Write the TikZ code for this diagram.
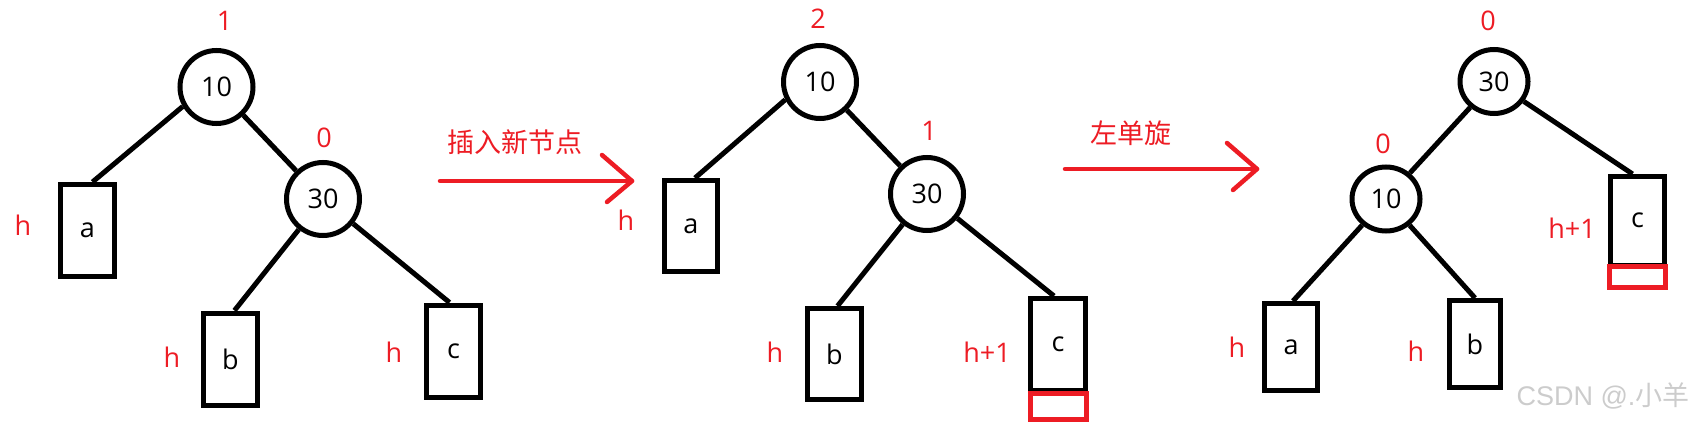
\documentclass[tikz,border=0pt]{standalone}
\usepackage{fontspec}
\setmainfont{Open Sans}
\newfontfamily\cjk{Noto Sans CJK SC}
\newfontfamily\wmfont{Liberation Sans}
\usetikzlibrary{calc,shapes.geometric}
\definecolor{pred}{RGB}{237,28,36}
\begin{document}
\begin{tikzpicture}[x=1pt,y=-1pt,
  txt/.style={font=\fontsize{27}{30}\selectfont},
  circ/.style={circle,draw,line width=5pt,minimum size=73pt,inner sep=0pt,txt},
  ell/.style={ellipse,draw,line width=5pt,minimum width=68pt,minimum height=64pt,inner sep=0pt,txt},
  leaf/.style={rectangle,draw,line width=5pt,inner sep=0pt,minimum width=54pt,minimum height=92pt,txt},
  newpart/.style={rectangle,draw=pred,line width=5pt,inner sep=0pt,minimum width=56pt,minimum height=26pt},
  lbl/.style={text=pred,inner sep=0pt,txt},
  edge/.style={line width=5pt},
  redline/.style={draw=pred,line width=4.5pt,line cap=round,line join=round},
  cjklbl/.style={text=pred,inner sep=0pt,font=\cjk\fontsize{27}{30}\selectfont}]
\path[use as bounding box] (0,0) rectangle (1706,428);

% ---------- tree 1 ----------
\node[circ] (A10) at (216.5,87) {10};
\node[circ] (A30) at (323,199) {30};
\node[leaf] (Aa) at (87.5,230.5) {a};
\node[leaf] (Ab) at (230.5,359) {b};
\node[leaf] (Ac) at (453.5,351) {c};
\node[lbl] (Al1) at (224.5,21) {1};
\node[lbl] (Al0) at (324,138) {0};
\node[lbl] (Aha) at (23,225) {h};
\node[lbl] (Ahb) at (172,357) {h};
\node[lbl] (Ahc) at (394,352) {h};
\draw[edge] (A10.210) -- ([xshift=5pt]Aa.north);
\draw[edge] (A10) -- (A30);
\draw[edge] (A30) -- ([xshift=4pt]Ab.north);
\draw[edge] (A30) -- ([xshift=-4pt]Ac.north);

% ---------- arrow 1 ----------
\coordinate (P1s) at (440,181);
\coordinate (P1t) at (632,181);
\draw[redline] (P1s) -- (P1t);
\draw[redline] ([shift={(-30,-26)}]P1t) -- (P1t) -- ([shift={(-25,21)}]P1t);
\node[cjklbl] (T1) at (515,142) {插入新节点};

% ---------- tree 2 ----------
\node[circ] (B10) at (820,82) {10};
\node[circ] (B30) at (927,194) {30};
\node[leaf,minimum width=53pt,minimum height=91pt] (Ba) at (691,226) {a};
\node[leaf,minimum height=91pt] (Bb) at (834.5,354) {b};
\node[leaf,minimum width=55pt,minimum height=92pt] (Bc) at (1058,344.5) {c};
\node[newpart] (Bn) at (1058.5,406.5) {};
\node[lbl] (Bl2) at (818,19) {2};
\node[lbl] (Bl1) at (929,131) {1};
\node[lbl] (Bha) at (626,220) {h};
\node[lbl] (Bhb) at (775,352) {h};
\node[lbl] (Bhc) at (987,352) {h+1};
\draw[edge] (B10.207) -- ([xshift=4pt]Ba.north);
\draw[edge] (B10) -- (B30);
\draw[edge] (B30) -- ([xshift=3pt]Bb.north);
\draw[edge] (B30) -- ([xshift=-4pt]Bc.north);

% ---------- arrow 2 ----------
\coordinate (P2s) at (1065,169);
\coordinate (P2t) at (1257,169);
\draw[redline] (P2s) -- (P2t);
\draw[redline] ([shift={(-30,-26)}]P2t) -- (P2t) -- ([shift={(-24,21)}]P2t);
\node[cjklbl] (T2) at (1131,133.5) {左单旋};

% ---------- tree 3 ----------
\node[ell] (C30) at (1494,81.5) {30};
\node[ell] (C10) at (1386,199) {10};
\node[leaf,minimum width=53pt,minimum height=87pt] (Ca) at (1291,347) {a};
\node[leaf,minimum width=51pt,minimum height=87pt] (Cb) at (1475,344) {b};
\node[leaf,minimum width=54pt,minimum height=88.5pt] (Cc) at (1637.5,220.75) {c};
\node[newpart,minimum height=21pt] (Cn) at (1637.5,277) {};
\node[lbl] (Cl0a) at (1488,21) {0};
\node[lbl] (Cl0b) at (1383,144) {0};
\node[lbl] (Cha) at (1237,347) {h};
\node[lbl] (Chb) at (1416,351) {h};
\node[lbl] (Chc) at (1572,228) {h+1};
\draw[edge] (C30) -- (C10);
\draw[edge] (C30) -- ([xshift=-5pt]Cc.north);
\draw[edge] (C10) -- ([xshift=2pt]Ca.north);
\draw[edge] (C10) -- (Cb.north);

% ---------- watermark ----------
\node[text=black!20,inner sep=0pt,font=\wmfont\fontsize{27}{29}\selectfont] (WM) at (1603,396) {CSDN @.{\cjk 小羊}};
\end{tikzpicture}
\end{document}
